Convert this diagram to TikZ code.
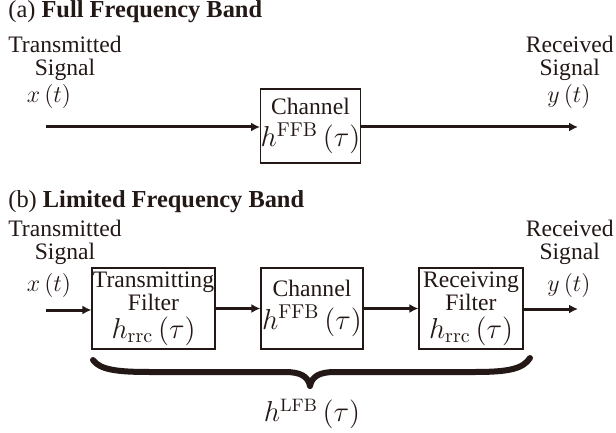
\documentclass[tikz,border=0pt]{standalone}
\usepackage[no-math]{fontspec}
\setmainfont{Liberation Serif}
\usetikzlibrary{arrows.meta}
\definecolor{ink}{HTML}{231815}
\newcommand{\boxmathsize}{\fontsize{14.5}{16}\selectfont}
\begin{document}
\begin{tikzpicture}[x=0.5pt,y=-0.5pt,
  txt/.style={font=\fontsize{11.8}{11.5}\selectfont, inner sep=0pt, align=center, text=ink},
  ttl/.style={font=\fontsize{12.2}{13}\selectfont, inner sep=0pt, anchor=west, text=ink},
  mth/.style={font=\fontsize{12.5}{14}\selectfont, inner sep=0pt, text=ink},
  blk/.style={draw=ink, line width=0.6pt, inner sep=0pt, align=center,
     font=\fontsize{11.8}{10.5}\selectfont, text=ink},
  sig/.style={draw=ink, line width=1.5pt, -{Latex[length=4.5pt,width=4.5pt]}},
  brc/.style={draw=ink, line width=3pt, line cap=round, line join=round}]
\useasboundingbox (0,0) rectangle (616,433);
% (a)
\node[ttl] (ta) at (8,12) {(a) \textbf{Full Frequency Band}};
\node[txt] (tsa) at (65,58) {Transmitted\\Signal};
\node[mth] (xa) at (49,97) {$x\left(t\right)$};
\coordinate (ina) at (46,127);
\node[blk, minimum width=49.5pt, minimum height=37pt] (cha) at (310.5,126)
  {Channel\\[3pt] {\boxmathsize$h^{\mathrm{FFB}}\left(\tau\right)$}};
\coordinate (outa) at (578,127);
\node[txt, anchor=east] (rsa) at (614,58) {Received\\Signal};
\node[mth] (ya) at (569,97) {$y\left(t\right)$};
\draw[sig] (ina) -- (ina -| cha.west);
\draw[sig] (outa -| cha.east) -- (outa);
% (b)
\node[ttl] (tb) at (8,202) {(b) \textbf{Limited Frequency Band}};
\node[txt] (tsb) at (65,242) {Transmitted\\Signal};
\node[mth] (xb) at (49,285) {$x\left(t\right)$};
\coordinate (inb) at (46,310);
\node[blk, minimum width=61.5pt, minimum height=40.5pt] (tf) at (153.5,308.5)
  {Transmitting\\Filter\\[2pt] {\boxmathsize$h_{\mathrm{rrc}}\left(\tau\right)$}};
\node[blk, minimum width=51pt, minimum height=40.5pt] (chb) at (312,308.5)
  {Channel\\[3pt] {\boxmathsize$h^{\mathrm{FFB}}\left(\tau\right)$}};
\node[blk, minimum width=52pt, minimum height=40.5pt] (rf) at (471,308.5)
  {Receiving\\Filter\\[2pt] {\boxmathsize$h_{\mathrm{rrc}}\left(\tau\right)$}};
\coordinate (outb) at (578,309);
\node[txt, anchor=east] (rsb) at (614,242) {Received\\Signal};
\node[mth] (yb) at (569,285) {$y\left(t\right)$};
\draw[sig] (inb) -- (inb -| tf.west);
\draw[sig] (tf.east) -- (chb.west);
\draw[sig] (chb.east) -- (rf.west);
\draw[sig] (outb -| rf.east) -- (outb);
% brace
\coordinate (bl) at (93,360);
\coordinate (bt) at (310,386);
\coordinate (br) at (530,358);
\draw[brc] (bl) .. controls (100,370) and (118,372) .. (150,372) -- (285,372)
  .. controls (300,372) and (308,376) .. (bt)
  .. controls (312,376) and (320,372) .. (335,372) -- (475,372)
  .. controls (508,372) and (523,369) .. (br);
\node[mth, font=\fontsize{13.5}{15}\selectfont] (hl) at (312,414) {$h^{\mathrm{LFB}}\left(\tau\right)$};
\end{tikzpicture}
\end{document}
